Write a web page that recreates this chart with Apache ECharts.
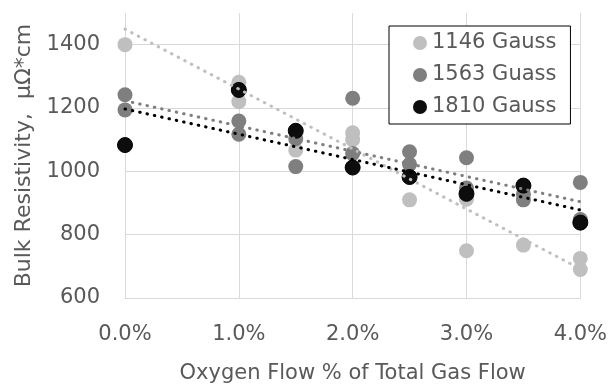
<!DOCTYPE html>
<html><head><meta charset="utf-8">
<script src="https://cdn.jsdelivr.net/npm/echarts@6/dist/echarts.min.js"></script>
<style>html,body{margin:0;padding:0;background:#fff}#c{width:610px;height:389px}</style>
</head><body><div id="c"></div>
<script>
// Oxygen flow (% of total gas flow) and bulk resistivity (µΩ*cm)
var x1146 = [0, 1, 1, 1.5, 2, 2, 2.5, 3, 3, 3.5, 4, 4];
var y1146 = [1400, 1281, 1220, 1067, 1122, 1100, 910, 749, 912, 767, 725, 690];
var x1563 = [0, 0, 1, 1, 1.5, 1.5, 2, 2, 2.5, 2.5, 3, 3, 3.5, 3.5, 4, 4];
var y1563 = [1242, 1194, 1159, 1117, 1103, 1015, 1231, 1056, 1062, 1022, 1043, 947, 928, 910, 965, 848];
var x1810 = [0, 1, 1.5, 2, 2.5, 3, 3.5, 4];
var y1810 = [1083, 1257, 1128, 1012, 982, 929, 955, 838];
// linear trendlines (value at 0% and at 4%)
var trendX = [0, 4];
var trend1146 = [1449, 692];
var trend1563 = [1223, 904];
var trend1810 = [1197, 878];
var seriesNames = ['1146 Gauss', '1563 Guass', '1810 Gauss'];
var xTicks = [0, 1, 2, 3, 4];
var yTicks = [600, 800, 1000, 1200, 1400];

function pairs(xs, ys) { return xs.map(function (x, i) { return [x, ys[i]]; }); }

var font = "'DejaVu Sans', sans-serif";
var txt = '#595959';
var grid = '#d9d9d9';
var colors = ['#bfbfbf', '#7f7f7f', '#0d0d0d'];

function scatter(name, xs, ys, color, extra) {
  var s = {
    name: name, type: 'scatter', data: pairs(xs, ys), symbolSize: 15,
    itemStyle: { color: color, opacity: 1 }, z: 3, animation: false
  };
  if (extra) for (var k in extra) s[k] = extra[k];
  return s;
}
function trend(name, ys, color, z) {
  return {
    name: name, type: 'line', data: pairs(trendX, ys), symbol: 'none', z: z,
    lineStyle: { color: color, width: 3, type: [0.5, 7], cap: 'round' },
    silent: true, animation: false
  };
}

var chart = echarts.init(document.getElementById('c'), null, { renderer: 'canvas' });
chart.setOption({
  animation: false,
  textStyle: { fontFamily: font },
  grid: { left: 125, right: 27, top: 13, bottom: 89 },
  legend: {
    data: seriesNames.map(function (n, i) { return { name: n, itemStyle: { color: colors[i], opacity: 1, borderWidth: 0 } }; }),
    orient: 'vertical', left: 389, top: 26,
    padding: [6, 14, 6, 24], itemGap: 10, itemWidth: 14, itemHeight: 14,
    icon: 'circle', backgroundColor: '#fff', borderColor: '#000', borderWidth: 1,
    textStyle: { fontSize: 21, color: txt, fontFamily: font, lineHeight: 22 }
  },
  xAxis: {
    type: 'value', min: 0, max: 4, interval: 1,
    name: 'Oxygen Flow % of Total Gas Flow', nameLocation: 'middle', nameGap: 65,
    nameTextStyle: { fontSize: 21, color: txt, fontFamily: font },
    axisLine: { show: true, lineStyle: { color: grid, width: 1 } },
    axisTick: { show: false },
    splitLine: { show: true, lineStyle: { color: grid, width: 1 } },
    axisLabel: { fontSize: 21, color: txt, margin: 26, fontFamily: font,
      formatter: function (v) { return v.toFixed(1) + '%'; } }
  },
  yAxis: {
    type: 'value', min: 600, max: 1500, interval: 200,
    name: 'Bulk Resistivity,  μΩ*cm', nameLocation: 'middle', nameGap: 86, nameRotate: 90,
    nameTextStyle: { fontSize: 22, color: txt, fontFamily: font },
    axisLine: { show: false }, axisTick: { show: false },
    splitLine: { show: false },
    axisLabel: { fontSize: 21, color: txt, margin: 25, fontFamily: font, showMaxLabel: false,
      formatter: function (v) { return yTicks.indexOf(v) >= 0 ? String(v) : ''; } }
  },
  series: [
    scatter(seriesNames[0], x1146, y1146, colors[0], {
      markLine: {
        silent: true, symbol: 'none', animation: false, label: { show: false },
        lineStyle: { color: grid, width: 1, type: 'solid' },
        data: yTicks.map(function (v) { return { yAxis: v }; }), z: 1
      }
    }),
    scatter(seriesNames[1], x1563, y1563, colors[1]),
    scatter(seriesNames[2], x1810, y1810, colors[2], { itemStyle: { color: colors[2], opacity: 1, borderColor: '#000', borderWidth: 1 } }),
    trend('t1146', trend1146, '#bfbfbf', 5),
    trend('t1563', trend1563, '#7f7f7f', 6),
    trend('t1810', trend1810, '#000000', 7)
  ]
});
</script></body></html>
